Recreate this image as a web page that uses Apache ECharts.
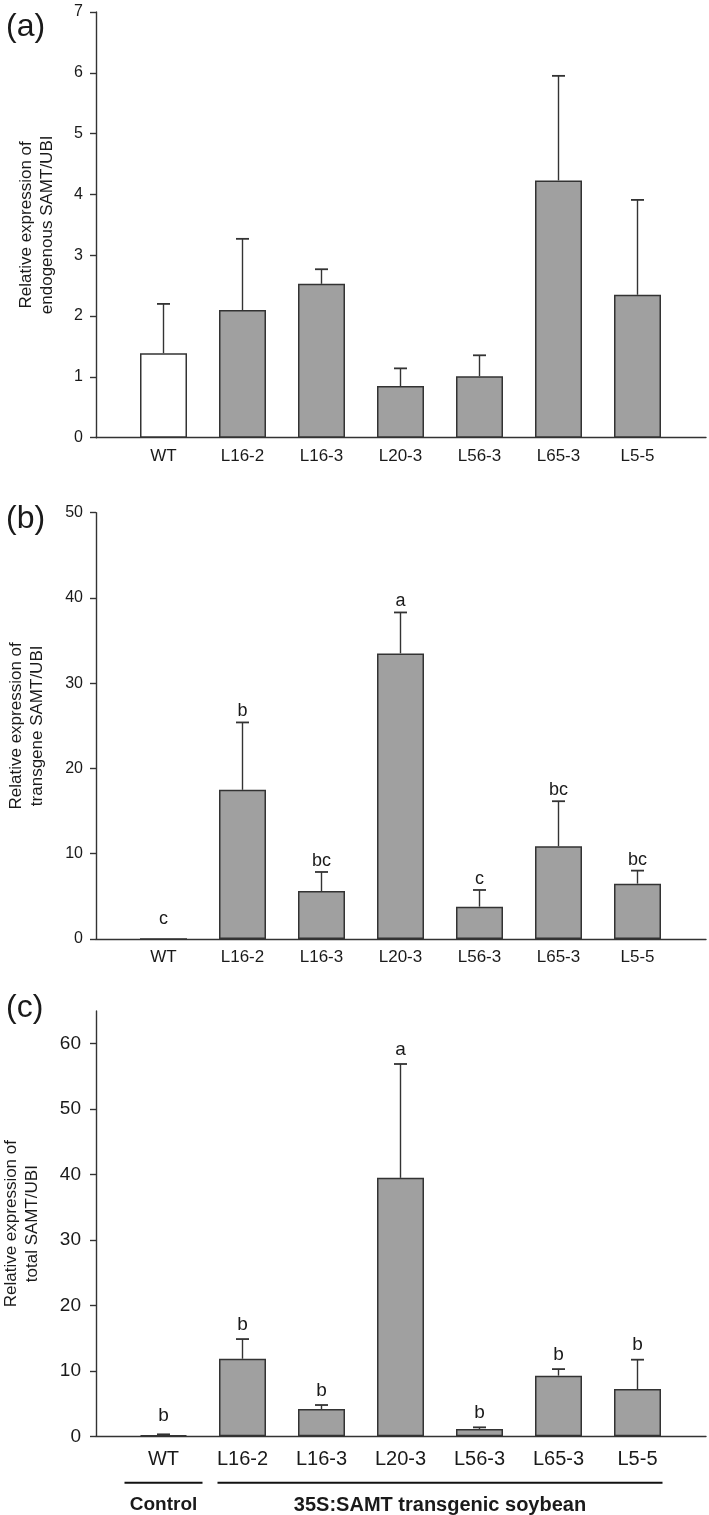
<!DOCTYPE html>
<html>
<head>
<meta charset="utf-8">
<script src="https://cdn.jsdelivr.net/npm/echarts@6/dist/echarts.min.js"></script>
<style>
html,body{margin:0;padding:0;background:#fff;}
#chart{width:709px;height:1515px;}
</style>
</head>
<body>
<div id="chart"></div>
<script>
// ---------- data ----------
const categories = ['WT', 'L16-2', 'L16-3', 'L20-3', 'L56-3', 'L65-3', 'L5-5'];

const endoMean = [1.39, 2.10, 2.53, 0.85, 1.01, 4.23, 2.35];
const endoErr  = [0.81, 1.17, 0.24, 0.29, 0.345, 1.72, 1.56];

const transMean    = [0, 17.5, 5.63, 33.5, 3.79, 10.88, 6.49];
const transErr     = [0, 7.9, 2.23, 4.8, 1.96, 5.28, 1.53];
const transLetters = ['c', 'b', 'bc', 'a', 'c', 'bc', 'bc'];

const totalMean    = [0.15, 11.85, 4.17, 39.5, 1.12, 9.27, 7.22];
const totalErr     = [0.15, 3.01, 0.61, 17.4, 0.25, 1.0, 4.49];
const totalLetters = ['b', 'b', 'b', 'a', 'b', 'b', 'b'];

const yTicksA = [0, 1, 2, 3, 4, 5, 6, 7];
const yTicksB = [0, 10, 20, 30, 40, 50];
const yTicksC = [0, 10, 20, 30, 40, 50, 60];

const nameA = 'Relative expression of\nendogenous SAMT/UBI';
const nameB = 'Relative expression of\ntransgene SAMT/UBI';
const nameC = 'Relative expression of\ntotal SAMT/UBI';

const groupControl = 'Control';
const groupTransgenic = '35S:SAMT transgenic soybean';

// ---------- styling ----------
const FONT = 'Liberation Sans, Arial, Helvetica, sans-serif';
const INK = '#1a1a1a';
const AX = '#333333';
const BAR = '#a0a0a0';

const panels = [
  {top: 12,    bottom: 1515 - 437.7, max: 7,  interval: 1,  ticks: yTicksA, name: nameA, nameGap: 38,
   yFont: 16, xFont: 17, xMargin: 10, yMargin: 13, mean: endoMean, err: endoErr, letters: null, gap: 0, lFont: 18},
  {top: 512.7, bottom: 1515 - 939,   max: 50, interval: 10, ticks: yTicksB, name: nameB, nameGap: 48,
   yFont: 16, xFont: 17, xMargin: 10, yMargin: 13, mean: transMean, err: transErr, letters: transLetters, gap: 2, lFont: 18},
  {top: 1011,  bottom: 1515 - 1436.3, max: 65, interval: 10, ticks: yTicksC, name: nameC, nameGap: 53,
   yFont: 19, xFont: 20, xMargin: 13, yMargin: 15, mean: totalMean, err: totalErr, letters: totalLetters, gap: 5, lFont: 19}
];

const grids = [], xAxes = [], yAxes = [], series = [];

panels.forEach((p, k) => {
  const gi = k * 2;
  grids.push({left: 124, right: 32, top: p.top, bottom: p.bottom, containLabel: false, outerBoundsMode: 'none'});
  grids.push({left: 96, right: 3, top: p.top, bottom: p.bottom, containLabel: false, outerBoundsMode: 'none'});

  xAxes.push({
    type: 'category', gridIndex: gi, data: categories,
    axisLine: {show: false}, axisTick: {show: false},
    axisLabel: {color: INK, fontFamily: FONT, fontSize: p.xFont, margin: p.xMargin, interval: 0}
  });
  xAxes.push({
    type: 'value', gridIndex: gi + 1, min: 0, max: 1,
    axisLine: {show: true, onZero: false, lineStyle: {color: AX, width: 1.4}},
    axisTick: {show: false}, axisLabel: {show: false}, splitLine: {show: false}
  });

  yAxes.push({
    type: 'value', gridIndex: gi, min: 0, max: p.max, interval: p.interval, offset: 28,
    axisLine: {show: true, lineStyle: {color: AX, width: 1.4}},
    axisTick: {show: true, length: 6, inside: false, customValues: p.ticks, lineStyle: {color: AX, width: 1.4}},
    axisLabel: {color: INK, fontFamily: FONT, fontSize: p.yFont, margin: p.yMargin, customValues: p.ticks},
    splitLine: {show: false},
    name: p.name, nameLocation: 'middle', nameGap: p.nameGap,
    nameTextStyle: {color: INK, fontFamily: FONT, fontSize: 17, lineHeight: 21}
  });
  yAxes.push({type: 'value', gridIndex: gi + 1, min: 0, max: 1, show: false});

  series.push({
    type: 'bar', xAxisIndex: gi, yAxisIndex: gi, barWidth: 47,
    data: p.mean.map((v, i) => ({
      value: v,
      itemStyle: {color: (k === 0 && i === 0) ? '#ffffff' : BAR}
    })),
    itemStyle: {borderColor: '#333', borderWidth: 1.5},
    silent: true, animation: false
  });

  const letters = p.letters, gap = p.gap, lFont = p.lFont;
  series.push({
    type: 'custom', xAxisIndex: gi, yAxisIndex: gi, z: 5, animation: false, silent: true,
    encode: {x: 0, y: 1},
    data: p.mean.map((m, i) => [i, m, p.err[i]]),
    renderItem: function (params, api) {
      const i = api.value(0), m = api.value(1), e = api.value(2);
      const top = api.coord([i, m]);
      const cap = api.coord([i, m + e]);
      const zero = api.coord([i, 0]);
      const children = [];
      if (e > 0) {
        children.push({type: 'line', shape: {x1: top[0], y1: top[1], x2: cap[0], y2: cap[1]},
          style: {stroke: '#333', lineWidth: 1.4}});
        children.push({type: 'line', shape: {x1: cap[0] - 6.5, y1: cap[1], x2: cap[0] + 6.5, y2: cap[1]},
          style: {stroke: '#333', lineWidth: 1.8}});
      }
      if (letters) {
        const y = Math.min(cap[1] - gap, zero[1] - 11);
        children.push({type: 'text', style: {
          text: letters[params.dataIndex], x: cap[0], y: y,
          align: 'center', verticalAlign: 'bottom',
          fontFamily: FONT, fontSize: lFont, fill: INK
        }});
      }
      return {type: 'group', children: children};
    }
  });
});

const chart = echarts.init(document.getElementById('chart'), null, {renderer: 'canvas'});
chart.setOption({
  animation: false,
  backgroundColor: '#ffffff',
  grid: grids, xAxis: xAxes, yAxis: yAxes, series: series
});

// panel letters and grouping brackets under panel (c)
const xC = i => chart.convertToPixel({xAxisIndex: 4}, i);
const yBracket = 1436.3 + 46.4;
const ctrlL = xC(0) - 39, ctrlR = xC(0) + 39;
const tgL = xC(1) - 25, tgR = xC(categories.length - 1) + 25;

chart.setOption({
  graphic: [
    {type: 'text', left: 6, top: 11, style: {text: '(a)', fontFamily: FONT, fontSize: 32, fill: INK}},
    {type: 'text', left: 6, top: 503, style: {text: '(b)', fontFamily: FONT, fontSize: 32, fill: INK}},
    {type: 'text', left: 6, top: 992, style: {text: '(c)', fontFamily: FONT, fontSize: 32, fill: INK}},
    {type: 'line', shape: {x1: ctrlL, y1: yBracket, x2: ctrlR, y2: yBracket}, style: {stroke: '#111', lineWidth: 2}},
    {type: 'line', shape: {x1: tgL, y1: yBracket, x2: tgR, y2: yBracket}, style: {stroke: '#111', lineWidth: 2}},
    {type: 'text', x: (ctrlL + ctrlR) / 2, y: 1505, style: {text: groupControl, align: 'center', verticalAlign: 'middle',
      fontFamily: FONT, fontSize: 19, fontWeight: 'bold', fill: INK}},
    {type: 'text', x: (tgL + tgR) / 2, y: 1505, style: {text: groupTransgenic, align: 'center', verticalAlign: 'middle',
      fontFamily: FONT, fontSize: 20, fontWeight: 'bold', fill: INK}}
  ]
});
</script>
</body>
</html>
